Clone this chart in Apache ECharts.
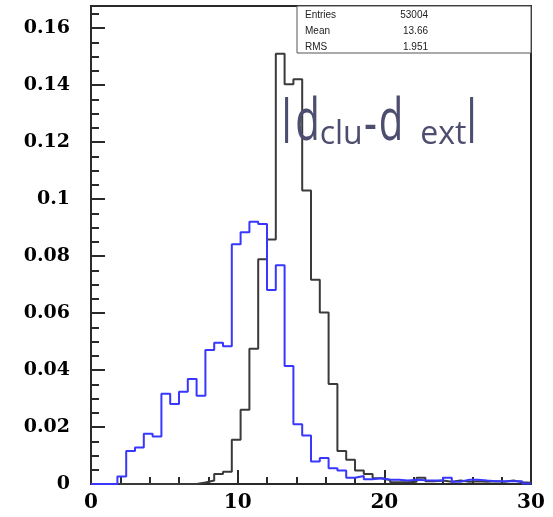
<!DOCTYPE html>
<html>
<head>
<meta charset="utf-8">
<script src="https://cdn.jsdelivr.net/npm/echarts@6/dist/echarts.min.js"></script>
<style>
html,body{margin:0;padding:0;background:#fff;}
#chart{width:553px;height:517px;}
</style>
</head>
<body>
<div id="chart"></div>
<script>
// ---- data ----
const xMin = 0, xMax = 30, nBins = 50;
const blueCounts = [
  0, 0, 0, 0.0026, 0.0116, 0.0128, 0.0176, 0.0167, 0.0317, 0.0281,
  0.0324, 0.0369, 0.0310, 0.0470, 0.0496, 0.0484, 0.0842, 0.0884, 0.0921, 0.0913,
  0.0681, 0.0768, 0.0414, 0.0210, 0.0170, 0.0079, 0.0091, 0.0055, 0.0047, 0.0022,
  0.0028, 0.0017, 0.0020, 0.0015, 0.0015, 0.0012, 0.0015, 0.0013, 0.0012, 0.0012,
  0.0022, 0.0008, 0.0015, 0.0015, 0.0012, 0.0010, 0.0010, 0.0010, 0.0010, 0.0002
];
const blackCounts = [
  0, 0, 0, 0, 0, 0, 0, 0, 0, 0,
  0, 0, 0.0005, 0.0012, 0.0035, 0.0043, 0.0155, 0.0261, 0.0475, 0.0789,
  0.0858, 0.1510, 0.1403, 0.1421, 0.1030, 0.0717, 0.0602, 0.0351, 0.0116, 0.0085,
  0.0047, 0.0035, 0.0020, 0.0014, 0.0006, 0.0006, 0.0008, 0.0022, 0.0010, 0.0012,
  0.0008, 0.0012, 0.0008, 0.0010, 0.0008, 0.0010, 0.0008, 0.0012, 0.0006, 0.0004
];
const yMax = 0.1678;
const yLabelStep = 0.02;
const xTickLabels = ['0', '10', '20', '30'];
const statsNames = ['Entries', 'Mean', 'RMS'];
const statsValues = ['53004', '13.66', '1.951'];

// ---- build step outlines from bins ----
function stepData(counts) {
  const w = (xMax - xMin) / nBins;
  const pts = [];
  for (let i = 0; i < counts.length; i++) pts.push([xMin + i * w, counts[i]]);
  pts.push([xMax, counts[counts.length - 1]]);
  pts.push([xMax, 0]);
  return pts;
}

const chart = echarts.init(document.getElementById('chart'), null, {renderer: 'canvas'});
const GL = 91, GT = 6, GR = 22, GB = 33;
const W = 553, H = 517;
const plotRight = W - GR;

const TXT_COLOR = '#4d4d70';
function piece(t, cx, cy, size, sx) {
  return {type: 'text', x: cx, y: cy, scaleX: sx, z: 100,
    style: {text: t, fontFamily: 'Open Sans', fontSize: size, fill: TXT_COLOR, align: 'center', verticalAlign: 'middle'}};
}

const option = {
  animation: false,
  backgroundColor: '#fff',
  grid: {left: GL, top: GT, right: GR, bottom: GB, show: true, borderColor: '#2a2a2a', borderWidth: 2, backgroundColor: 'transparent', containLabel: false},
  xAxis: {
    type: 'value', min: xMin, max: xMax, interval: 10,
    axisLine: {show: true, lineStyle: {color: '#2a2a2a', width: 2}},
    axisTick: {show: true, inside: true, length: 14, lineStyle: {color: '#2a2a2a', width: 2}},
    minorTick: {show: true, splitNumber: 5, length: 7, lineStyle: {color: '#2a2a2a', width: 2}},
    splitLine: {show: false},
    axisLabel: {margin: 9, color: '#000', fontFamily: 'DejaVu Serif', fontWeight: 'bold', fontSize: 20,
      formatter: function (v) { const i = Math.round(v / 10); return xTickLabels[i] !== undefined ? xTickLabels[i] : ''; }}
  },
  yAxis: [{
    type: 'value', min: 0, max: yMax, interval: yLabelStep, position: 'left',
    axisLine: {show: true, lineStyle: {color: '#2a2a2a', width: 2}},
    axisTick: {show: true, inside: true, length: 14, lineStyle: {color: '#2a2a2a', width: 2}},
    splitLine: {show: false},
    axisLabel: {margin: 21, color: '#000', fontFamily: 'DejaVu Serif', fontWeight: 'bold', fontSize: 19,
      showMaxLabel: false,
      formatter: function (v) {
        const r = v / yLabelStep;
        if (Math.abs(r - Math.round(r)) > 1e-6) return '';
        return String(+v.toFixed(2));
      }}
  }, {
    type: 'value', min: 0, max: yMax, interval: 0.005, position: 'left', offset: 0,
    axisLine: {show: false},
    axisTick: {show: true, inside: true, length: 8, lineStyle: {color: '#2a2a2a', width: 2}},
    splitLine: {show: false},
    axisLabel: {show: false}
  }],
  series: [{
    type: 'line', name: 'black', data: stepData(blackCounts), step: 'end', symbol: 'none',
    lineStyle: {color: '#3a3a3a', width: 2}, z: 3
  }, {
    type: 'line', name: 'blue', data: stepData(blueCounts), step: 'end', symbol: 'none',
    lineStyle: {color: '#3737ff', width: 2}, z: 4
  }],
  graphic: [
    {type: 'rect', z: 50, shape: {x: 297, y: GT, width: plotRight - 297, height: 53 - GT},
      style: {fill: '#fff', stroke: '#555', lineWidth: 1}},
    ...statsNames.map((n, i) => ({type: 'text', z: 51, x: 305, y: 15 + i * 16,
      style: {text: n, fontFamily: 'Liberation Sans', fontSize: 10, fill: '#222', verticalAlign: 'middle', align: 'left'}})),
    ...statsValues.map((n, i) => ({type: 'text', z: 51, x: 428, y: 15 + i * 16,
      style: {text: n, fontFamily: 'Liberation Sans', fontSize: 10, fill: '#222', verticalAlign: 'middle', align: 'right'}})),
    piece('|', 286.5, 119, 45, 1),
    piece('d', 307.5, 123, 59, 0.68),
    piece('clu', 341.2, 135, 32, 1),
    piece('-', 370.5, 126, 59, 0.68),
    piece('d', 391, 123, 59, 0.68),
    piece('ext', 443.3, 135, 32, 1),
    piece('|', 471.5, 119, 45, 1)
  ]
};
chart.setOption(option);
</script>
</body>
</html>
